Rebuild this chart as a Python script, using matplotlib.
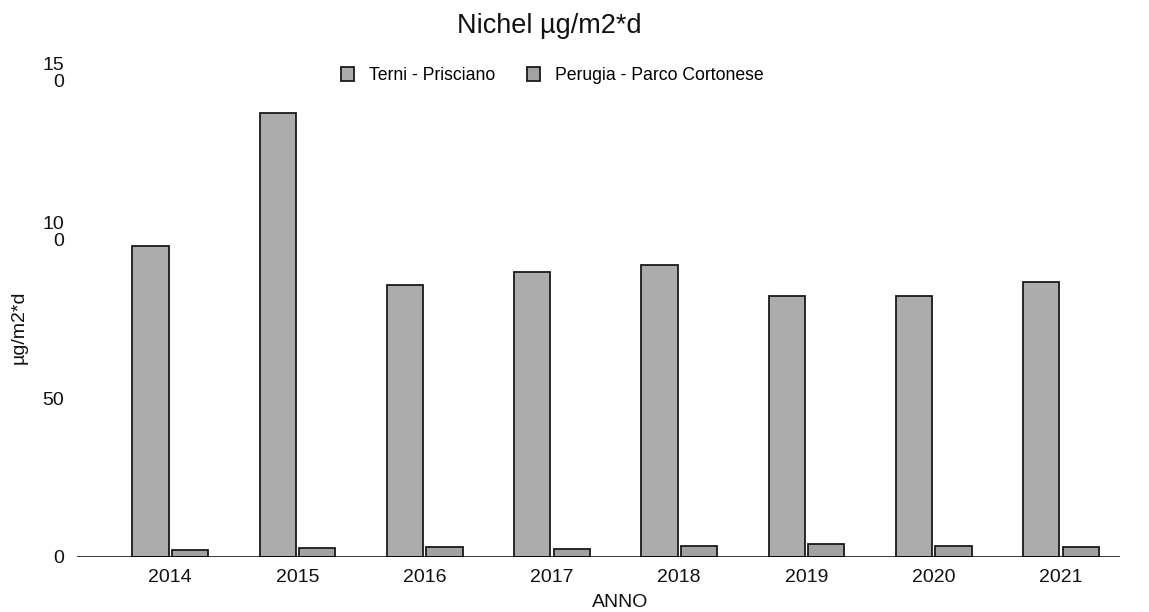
import matplotlib
matplotlib.use("Agg")
import matplotlib.pyplot as plt
import matplotlib.transforms as mtrans
import numpy as np

years = ["2014", "2015", "2016", "2017", "2018", "2019", "2020", "2021"]
terni = [97.8, 139.7, 85.5, 89.8, 92.0, 82.0, 82.0, 86.4]
perugia = [2.2, 2.8, 3.1, 2.5, 3.4, 4.2, 3.5, 3.0]
series_names = ["Terni - Prisciano", "Perugia - Parco Cortonese"]
ytick_vals = [0, 50, 100, 150]
ytick_labels = ["0", "50", "10\n0", "15\n0"]

plt.rcParams['font.family'] = ['Liberation Sans', 'DejaVu Sans']

fig = plt.figure(figsize=(11.49, 6.12), dpi=100)
ax = fig.add_axes([0.067, 0.09, 0.908, 0.779])

x = np.arange(len(years))
w = 0.285
ax.bar(x - 0.155, terni, w, color='#acacac', edgecolor='#1a1a1a', linewidth=1.3, label=series_names[0])
ax.bar(x + 0.155, perugia, w, color='#a2a2a2', edgecolor='#1a1a1a', linewidth=1.3, label=series_names[1])

ax.set_xlim(-0.733, 7.466)
ax.set_ylim(0, 150)
for s in ax.spines.values():
    s.set_visible(False)
ax.axhline(0, color='black', lw=1.8, zorder=5)

ax.set_xticks(x)
ax.set_xticklabels(years, fontsize=14, color='#111111')
ax.tick_params(axis='x', length=0, pad=9)
ax.set_yticks(ytick_vals)
ax.set_yticklabels(ytick_labels, fontsize=14, color='#111111', linespacing=1.0)
ax.tick_params(axis='y', length=0, pad=9)

for lab, txt in zip(ax.get_yticklabels(), ytick_labels):
    lab.set_multialignment('right')
    if "\n" in txt:
        lab.set_verticalalignment('bottom')
        lab.set_transform(lab.get_transform() + mtrans.ScaledTranslation(0, -8/72, fig.dpi_scale_trans))

ax.set_xlabel("ANNO", fontsize=14, color='#111111')
ax.xaxis.set_label_coords(0.5206, -0.078)
fig.text(0.0165, 0.466, "µg/m2*d", rotation=90, fontsize=14, color='#111111', ha='center', va='center')

fig.text(0.478, 1 - 33/612, "Nichel µg/m2*d", fontsize=19.5, color='#111111', ha='center', va='baseline')
fig.legend(loc='center', bbox_to_anchor=(0.4805, 0.877), ncol=2, frameon=False,
           fontsize=12.7, handlelength=0.75, handleheight=0.85, columnspacing=1.8, handletextpad=0.85)

fig.savefig("out.png", dpi=100)
